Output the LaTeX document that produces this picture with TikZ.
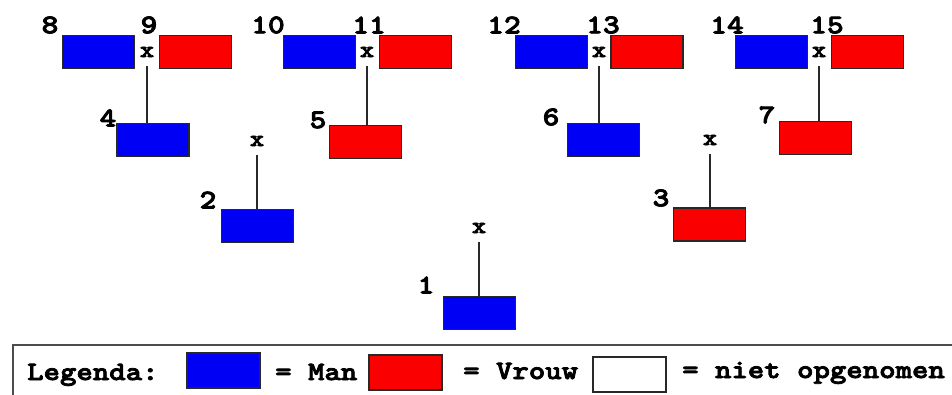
\documentclass[tikz,border=0pt]{standalone}
\usepackage{fontspec}
\newfontfamily\slab[FakeStretch=1.18,FakeBold=3]{Latin Modern Mono Light}
\definecolor{manblue}{RGB}{0,0,245}
\definecolor{vrouwred}{RGB}{250,0,0}
\definecolor{edge}{RGB}{40,40,40}
\begin{document}
\begin{tikzpicture}[x=1pt,y=-1pt,
  person/.style={draw=edge, line width=1.4pt, minimum width=72pt, minimum height=33pt, inner sep=0pt},
  man/.style={person, fill=manblue},
  vrouw/.style={person, fill=vrouwred},
  blank/.style={person, fill=white},
  lbl/.style={inner sep=0pt, font=\fontsize{27}{27}\slab\bfseries},
  cross/.style={inner sep=0pt, font=\fontsize{23}{23}\slab\bfseries},
  legtext/.style={inner sep=0pt, anchor=base west, font=\fontsize{26.5}{26.5}\slab\bfseries},
  link/.style={line width=1.3pt, draw=edge}]
\useasboundingbox (0,0) rectangle (952,394);
\clip (0,0) rectangle (952,394);
\fill[white] (0,0) rectangle (952,394);

% generation 4
\node[man]   (b8)  at (98.5,52)  {};
\node[vrouw] (b9)  at (195.5,52) {};
\node[man]   (b10) at (319.5,52) {};
\node[vrouw] (b11) at (415.5,52) {};
\node[man]   (b12) at (551.5,52) {};
\node[vrouw] (b13) at (647,52)   {};
\node[man]   (b14) at (771.5,52) {};
\node[vrouw] (b15) at (867.5,52) {};
% generation 3
\node[man]   (b4) at (153,140)   {};
\node[vrouw] (b5) at (365.5,142) {};
\node[man]   (b6) at (603.5,140) {};
\node[vrouw] (b7) at (815.5,138) {};
% generation 2
\node[man]   (b2) at (257.5,226) {};
\node[vrouw] (b3) at (709.5,224.5) {};
% generation 1
\node[man]   (b1) at (479.5,313) {};

% numbers
\node[lbl] (n8)  at (50,25)  {8};
\node[lbl] (n9)  at (149,25) {9};
\node[lbl] (n10) at (268,25) {10};
\node[lbl] (n11) at (369,25) {11};
\node[lbl] (n12) at (504,25) {12};
\node[lbl] (n13) at (603,25) {13};
\node[lbl] (n14) at (727,25) {14};
\node[lbl] (n15) at (827,25) {15};
\node[lbl] (n4) at (108,118) {4};
\node[lbl] (n5) at (318,120) {5};
\node[lbl] (n6) at (551,117) {6};
\node[lbl] (n7) at (767,115) {7};
\node[lbl] (n2) at (208,200) {2};
\node[lbl] (n3) at (661,198) {3};
\node[lbl] (n1) at (426,285) {1};

% marriage crosses
\node[cross] (x4) at (147,52)  {x};
\node[cross] (x5) at (367,52)  {x};
\node[cross] (x6) at (599,52)  {x};
\node[cross] (x7) at (819,52)  {x};
\node[cross] (x2) at (257,141) {x};
\node[cross] (x3) at (710,140) {x};
\node[cross] (x1) at (479,228) {x};

% connectors
\foreach \i in {1,...,7}{
  \draw[link] ([yshift=-9pt]x\i.south) -- (x\i |- b\i.north);
}

% legend
\draw[line width=1.6pt, draw=black!70] (13,400) -- (13,345) -- (960,345);
\node[legtext] (lg) at (27,380) {Legenda:};
\node[man, minimum width=73pt, minimum height=35pt] (lm) at (223.5,370.5) {};
\node[legtext] (lmt) at (275,380) {= Man};
\node[vrouw, minimum width=73pt, minimum height=35pt] (lv) at (405.5,372.5) {};
\node[legtext] (lvt) at (463,379) {= Vrouw};
\node[blank, minimum width=73pt, minimum height=35pt] (ln) at (629.5,374.5) {};
\node[legtext] (lnt) at (682,378) {= niet opgenomen};
\end{tikzpicture}
\end{document}
